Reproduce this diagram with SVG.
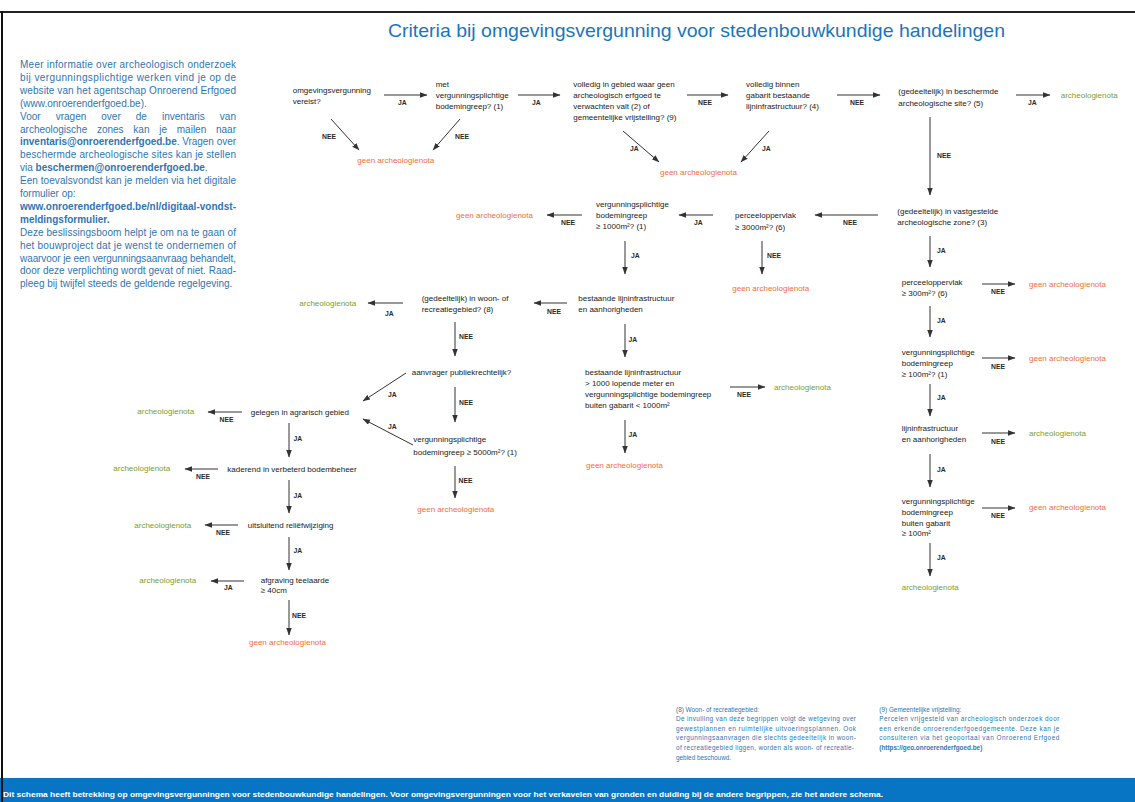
<svg xmlns="http://www.w3.org/2000/svg" width="1135" height="802" viewBox="0 0 1135 802">
<defs>
<marker id="ah" markerUnits="userSpaceOnUse" markerWidth="8" markerHeight="6" refX="7" refY="2.75" orient="auto">
<path d="M0,0 L7.5,2.75 L0,5.5 z" fill="#333"/>
</marker>
<style>
text{font-family:"Liberation Sans",Arial,sans-serif}
.n{font-size:8px;fill:#1a1a1a}
.o{font-size:8px;fill:#f26d3d}
.g{font-size:8px;fill:#77a02f}
.l{font-size:6.8px;font-weight:bold;fill:#2a2a2a}
.info{font-size:10px;fill:#2f75b5}
.fn{font-size:6.4px;fill:#2f75b5}
.b{font-weight:bold}
#connectors line{stroke:#333;stroke-width:1;marker-end:url(#ah)}
</style>
</defs>
<rect width="1135" height="802" fill="#fff"/>
<line x1="0" y1="12" x2="1135" y2="12" stroke="#222" stroke-width="2"/>
<rect x="0" y="778" width="1135" height="24" fill="#0875c4"/>
<text x="3" y="797" font-size="8" font-weight="bold" fill="#fff" textLength="880" lengthAdjust="spacingAndGlyphs">Dit schema heeft betrekking op omgevingsvergunningen voor stedenbouwkundige handelingen. Voor omgevingsvergunningen voor het verkavelen van gronden en duiding bij de andere begrippen, zie het andere schema.</text>
<line x1="2" y1="11" x2="2" y2="802" stroke="#111" stroke-width="2"/>
<text x="388" y="37" font-size="19" fill="#1b75bc" textLength="617" lengthAdjust="spacingAndGlyphs">Criteria bij omgevingsvergunning voor stedenbouwkundige handelingen</text>

<g id="info">
<text class="info" x="20" y="68" textLength="216" lengthAdjust="spacing">Meer informatie over archeologisch onderzoek</text>
<text class="info" x="20" y="80.9" textLength="216" lengthAdjust="spacing">bij vergunningsplichtige werken vind je op de</text>
<text class="info" x="20" y="93.8" textLength="216" lengthAdjust="spacing">website van het agentschap Onroerend Erfgoed</text>
<text class="info" x="20" y="106.7">(www.onroerenderfgoed.be).</text>
<text class="info" x="20" y="119.6" word-spacing="12.2" textLength="216" lengthAdjust="spacing">Voor vragen over de inventaris van</text>
<text class="info" x="20" y="132.5" word-spacing="7" textLength="216" lengthAdjust="spacing">archeologische zones kan je mailen naar</text>
<text class="info" x="20" y="145.4" textLength="216" lengthAdjust="spacing"><tspan class="b">inventaris@onroerenderfgoed.be</tspan>. Vragen over</text>
<text class="info" x="20" y="158.3" textLength="216" lengthAdjust="spacing">beschermde archeologische sites kan je stellen</text>
<text class="info" x="20" y="171.2">via <tspan class="b">beschermen@onroerenderfgoed.be</tspan>.</text>
<text class="info" x="20" y="184.1" textLength="216" lengthAdjust="spacing">Een toevalsvondst kan je melden via het digitale</text>
<text class="info" x="20" y="197">formulier op:</text>
<text class="info b" x="20" y="209.9" textLength="216" lengthAdjust="spacing">www.onroerenderfgoed.be/nl/digitaal-vondst-</text>
<text class="info b" x="20" y="222.8">meldingsformulier.</text>
<text class="info" x="20" y="235.7" textLength="216" lengthAdjust="spacing">Deze beslissingsboom helpt je om na te gaan of</text>
<text class="info" x="20" y="248.6" textLength="216" lengthAdjust="spacing">het bouwproject dat je wenst te ondernemen of</text>
<text class="info" x="20" y="261.5" textLength="216" lengthAdjust="spacing">waarvoor je een vergunningsaanvraag behandelt,</text>
<text class="info" x="20" y="274.4" textLength="216" lengthAdjust="spacing">door deze verplichting wordt gevat of niet. Raad-</text>
<text class="info" x="20" y="287.3">pleeg bij twijfel steeds de geldende regelgeving.</text>
</g>

<g id="connectors">
<line x1="384" y1="95" x2="427" y2="95"/>
<line x1="518" y1="95" x2="560" y2="95"/>
<line x1="687" y1="95" x2="728" y2="95"/>
<line x1="837" y1="95" x2="880" y2="95"/>
<line x1="1016" y1="95" x2="1050" y2="95"/>
<line x1="331" y1="119" x2="359" y2="150"/>
<line x1="460" y1="119" x2="433" y2="150"/>
<line x1="623" y1="131" x2="659" y2="162"/>
<line x1="769" y1="131" x2="741" y2="162"/>
<line x1="930" y1="117" x2="930" y2="195"/>
<line x1="878" y1="215" x2="815" y2="215"/>
<line x1="713" y1="215" x2="679" y2="215"/>
<line x1="582" y1="215" x2="547" y2="215"/>
<line x1="625" y1="241" x2="625" y2="274"/>
<line x1="762" y1="241" x2="762" y2="274"/>
<line x1="930" y1="236" x2="930" y2="267"/>
<line x1="982" y1="284" x2="1015" y2="284"/>
<line x1="930" y1="306" x2="930" y2="337"/>
<line x1="982" y1="358" x2="1015" y2="358"/>
<line x1="930" y1="384" x2="930" y2="416"/>
<line x1="982" y1="433" x2="1015" y2="433"/>
<line x1="930" y1="454" x2="930" y2="487"/>
<line x1="982" y1="508" x2="1015" y2="508"/>
<line x1="930" y1="543" x2="930" y2="576"/>
<line x1="567" y1="303" x2="534" y2="303"/>
<line x1="403" y1="303" x2="368" y2="303"/>
<line x1="455" y1="322" x2="455" y2="356"/>
<line x1="625" y1="324" x2="625" y2="357"/>
<line x1="406" y1="373" x2="363" y2="401"/>
<line x1="455" y1="387" x2="455" y2="422"/>
<line x1="413" y1="445" x2="363" y2="419"/>
<line x1="625" y1="420" x2="625" y2="453"/>
<line x1="730" y1="387" x2="765" y2="387"/>
<line x1="455" y1="466" x2="455" y2="498"/>
<line x1="242" y1="412" x2="208" y2="412"/>
<line x1="289" y1="423" x2="289" y2="457"/>
<line x1="218" y1="469" x2="185" y2="469"/>
<line x1="289" y1="480" x2="289" y2="513"/>
<line x1="238" y1="525" x2="205" y2="525"/>
<line x1="289" y1="537" x2="289" y2="570"/>
<line x1="244" y1="581" x2="211" y2="581"/>
<line x1="289" y1="600" x2="289" y2="635"/>
<g id="labels">
<text class="l" x="398" y="105">JA</text>
<text class="l" x="532" y="105">JA</text>
<text class="l" x="698" y="105">NEE</text>
<text class="l" x="850" y="105">NEE</text>
<text class="l" x="1028" y="105">JA</text>
<text class="l" x="322" y="138.5">NEE</text>
<text class="l" x="455" y="138.5">NEE</text>
<text class="l" x="630" y="151">JA</text>
<text class="l" x="762" y="151">JA</text>
<text class="l" x="937" y="158">NEE</text>
<text class="l" x="843" y="225">NEE</text>
<text class="l" x="694" y="225">JA</text>
<text class="l" x="561" y="225">NEE</text>
<text class="l" x="631" y="258">JA</text>
<text class="l" x="767" y="258">NEE</text>
<text class="l" x="937" y="253">JA</text>
<text class="l" x="991" y="294">NEE</text>
<text class="l" x="937" y="323">JA</text>
<text class="l" x="991" y="368.5">NEE</text>
<text class="l" x="937" y="400">JA</text>
<text class="l" x="991" y="443.5">NEE</text>
<text class="l" x="937" y="472">JA</text>
<text class="l" x="991" y="518">NEE</text>
<text class="l" x="937" y="560">JA</text>
<text class="l" x="547" y="313.5">NEE</text>
<text class="l" x="385" y="316">JA</text>
<text class="l" x="459" y="339">NEE</text>
<text class="l" x="628.5" y="341.5">JA</text>
<text class="l" x="388" y="396.5">JA</text>
<text class="l" x="459" y="404.5">NEE</text>
<text class="l" x="388" y="428.5">JA</text>
<text class="l" x="628.5" y="437">JA</text>
<text class="l" x="737" y="397">NEE</text>
<text class="l" x="458.5" y="482.5">NEE</text>
<text class="l" x="219.5" y="421.5">NEE</text>
<text class="l" x="293.5" y="441">JA</text>
<text class="l" x="196" y="478.5">NEE</text>
<text class="l" x="293.5" y="497.5">JA</text>
<text class="l" x="216" y="535">NEE</text>
<text class="l" x="293.5" y="553">JA</text>
<text class="l" x="224" y="590">JA</text>
<text class="l" x="292" y="617.5">NEE</text>
</g>
</g>

<g id="n1"><text class="n" x="292.7" y="93">omgevingsvergunning</text><text class="n" x="292.7" y="104">vereist?</text></g>
<g id="n2"><text class="n" x="435.7" y="87">met</text><text class="n" x="435.7" y="98">vergunningsplichtige</text><text class="n" x="435.7" y="109">bodemingreep? (1)</text></g>
<g id="n3"><text class="n" x="573.3" y="87">volledig in gebied waar geen</text><text class="n" x="573.3" y="98">archeologisch erfgoed te</text><text class="n" x="573.3" y="109">verwachten valt (2) of</text><text class="n" x="573.3" y="120">gemeentelijke vrijstelling? (9)</text></g>
<g id="n4"><text class="n" x="746" y="87">volledig binnen</text><text class="n" x="746" y="98">gabarit bestaande</text><text class="n" x="746" y="109">lijninfrastructuur? (4)</text></g>
<g id="n5"><text class="n" x="898.3" y="94">(gedeeltelijk) in beschermde</text><text class="n" x="898.3" y="105.5">archeologische site? (5)</text></g>
<g id="o1"><text class="o" x="357.3" y="163">geen archeologienota</text></g>
<g id="o2"><text class="o" x="660" y="175">geen archeologienota</text></g>
<g id="g1"><text class="g" x="1060.7" y="97.5">archeologienota</text></g>
<g id="n6"><text class="n" x="897.3" y="213.5">(gedeeltelijk) in vastgestelde</text><text class="n" x="897.3" y="225">archeologische zone? (3)</text></g>
<g id="n7"><text class="n" x="735" y="218">perceeloppervlak</text><text class="n" x="735" y="230">≥ 3000m²? (6)</text></g>
<g id="n8"><text class="n" x="596" y="207">vergunningsplichtige</text><text class="n" x="596" y="218">bodemingreep</text><text class="n" x="596" y="229">≥ 1000m²? (1)</text></g>
<g id="o3"><text class="o" x="456" y="218">geen archeologienota</text></g>
<g id="o4"><text class="o" x="732.3" y="290.5">geen archeologienota</text></g>
<g id="n9"><text class="n" x="578.3" y="300.5">bestaande lijninfrastructuur</text><text class="n" x="578.3" y="311.5">en aanhorigheden</text></g>
<g id="n10"><text class="n" x="421.7" y="300.5">(gedeeltelijk) in woon- of</text><text class="n" x="421.7" y="312">recreatiegebied? (8)</text></g>
<g id="g2"><text class="g" x="299.3" y="305.5">archeologienota</text></g>
<g id="n11"><text class="n" x="411.7" y="374.5">aanvrager publiekrechtelijk?</text></g>
<g id="n12"><text class="n" x="585" y="374.5">bestaande lijninfrastructuur</text><text class="n" x="585" y="385.5">&gt; 1000 lopende meter en</text><text class="n" x="585" y="396.5">vergunningsplichtige bodemingreep</text><text class="n" x="585" y="407.5">buiten gabarit &lt; 1000m²</text></g>
<g id="g3"><text class="g" x="774" y="390">archeologienota</text></g>
<g id="o5"><text class="o" x="586" y="467.5">geen archeologienota</text></g>
<g id="n13"><text class="n" x="413.3" y="442">vergunningsplichtige</text><text class="n" x="413.3" y="454.5">bodemingreep ≥ 5000m²? (1)</text></g>
<g id="o6"><text class="o" x="417.3" y="512">geen archeologienota</text></g>
<g id="n14"><text class="n" x="250.7" y="414.5">gelegen in agrarisch gebied</text></g>
<g id="g4"><text class="g" x="137.3" y="413.5">archeologienota</text></g>
<g id="n15"><text class="n" x="227.3" y="471.5">kaderend in verbeterd bodembeheer</text></g>
<g id="g5"><text class="g" x="113.3" y="471">archeologienota</text></g>
<g id="n16"><text class="n" x="247.7" y="527.5">uitsluitend reliëfwijziging</text></g>
<g id="g6"><text class="g" x="134.3" y="527.5">archeologienota</text></g>
<g id="n17"><text class="n" x="260.7" y="582.5">afgraving teelaarde</text><text class="n" x="260.7" y="593">≥ 40cm</text></g>
<g id="g7"><text class="g" x="139.3" y="582.5">archeologienota</text></g>
<g id="o7"><text class="o" x="249" y="645">geen archeologienota</text></g>
<g id="n18"><text class="n" x="901.7" y="284.5">perceeloppervlak</text><text class="n" x="901.7" y="295.5">≥ 300m²? (6)</text></g>
<g id="o8"><text class="o" x="1029" y="287">geen archeologienota</text></g>
<g id="n19"><text class="n" x="901.7" y="354.5">vergunningsplichtige</text><text class="n" x="901.7" y="365.5">bodemingreep</text><text class="n" x="901.7" y="377">≥ 100m²? (1)</text></g>
<g id="o9"><text class="o" x="1029" y="361">geen archeologienota</text></g>
<g id="n20"><text class="n" x="901.7" y="431">lijninfrastructuur</text><text class="n" x="901.7" y="442">en aanhorigheden</text></g>
<g id="g8"><text class="g" x="1029" y="436">archeologienota</text></g>
<g id="n21"><text class="n" x="901.7" y="503.5">vergunningsplichtige</text><text class="n" x="901.7" y="514.5">bodemingreep</text><text class="n" x="901.7" y="525.5">buiten gabarit</text><text class="n" x="901.7" y="536">≥ 100m²</text></g>
<g id="o10"><text class="o" x="1029" y="510">geen archeologienota</text></g>
<g id="g9"><text class="g" x="901.7" y="590">archeologienota</text></g>

<g id="note8">
<text class="fn" x="676" y="711.5">(8) Woon- of recreatiegebied:</text>
<text class="fn" x="676" y="721.1" textLength="180" lengthAdjust="spacing">De invulling van deze begrippen volgt de wetgeving over</text>
<text class="fn" x="676" y="730.7" textLength="180" lengthAdjust="spacing">gewestplannen en ruimtelijke uitvoeringsplannen. Ook</text>
<text class="fn" x="676" y="740.3" textLength="180" lengthAdjust="spacing">vergunningsaanvragen die slechts gedeeltelijk in woon-</text>
<text class="fn" x="676" y="749.9" textLength="178" lengthAdjust="spacing">of recreatiegebied liggen, worden als woon- of recreatie-</text>
<text class="fn" x="676" y="759.5">gebied beschouwd.</text>
</g>
<g id="note9">
<text class="fn" x="879.3" y="711.5">(9) Gemeentelijke vrijstelling:</text>
<text class="fn" x="879.3" y="721.1" textLength="180" lengthAdjust="spacing">Percelen vrijgesteld van archeologisch onderzoek door</text>
<text class="fn" x="879.3" y="730.7" textLength="180" lengthAdjust="spacing">een erkende onroerenderfgoedgemeente. Deze kan je</text>
<text class="fn" x="879.3" y="740.3" textLength="180" lengthAdjust="spacing">consulteren via het geoportaal van Onroerend Erfgoed</text>
<text class="fn b" x="879.3" y="749.9">(https://geo.onroerenderfgoed.be)</text>
</g>
</svg>
